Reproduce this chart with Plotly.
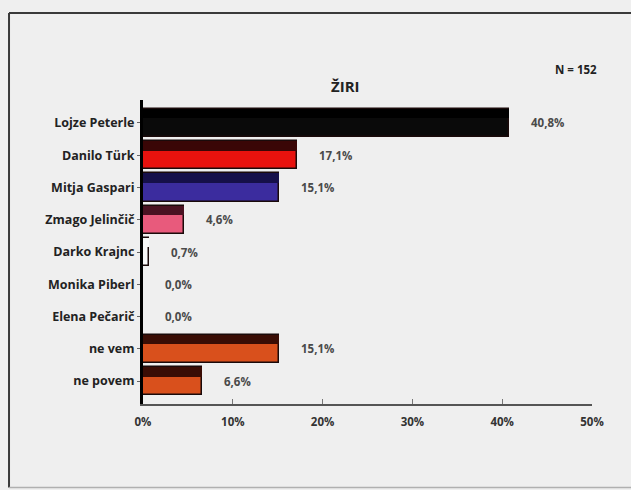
import plotly.graph_objects as go

candidates = ["Lojze Peterle", "Danilo Türk", "Mitja Gaspari", "Zmago Jelinčič",
              "Darko Krajnc", "Monika Piberl", "Elena Pečarič", "ne vem", "ne povem"]
values = [40.8, 17.1, 15.1, 4.6, 0.7, 0.0, 0.0, 15.1, 6.6]
value_labels = ["40,8%", "17,1%", "15,1%", "4,6%", "0,7%", "0,0%", "0,0%", "15,1%", "6,6%"]
bar_colors = ["#0a0a0a", "#e8120e", "#3b2c9e", "#e85a7c", "#f8f8f8",
              "#f8f8f8", "#f8f8f8", "#d9501c", "#d9501c"]
top_colors = ["#000000", "#3a0606", "#16104a", "#4a1222", "#f8f8f8",
              "#f8f8f8", "#f8f8f8", "#3a0d05", "#3a0d05"]
x_ticks = [0, 10, 20, 30, 40, 50]
x_tick_labels = ["0%", "10%", "20%", "30%", "40%", "50%"]
title_text = "ŽIRI"
n_text = "N = 152"

idx = list(range(len(candidates)))
font_fam = "Open Sans, DejaVu Sans, sans-serif"

fig = go.Figure()
fig.add_trace(go.Bar(
    y=idx, x=values, orientation="h", width=0.88,
    marker=dict(color=bar_colors, line=dict(color="#1a0a0a", width=1.5)),
    hoverinfo="skip", showlegend=False,
))
fig.add_trace(go.Bar(
    y=idx, x=values, orientation="h", width=0.3, offset=-0.44,
    marker=dict(color=top_colors, line=dict(width=0)),
    hoverinfo="skip", showlegend=False,
))

for i, (v, lab) in enumerate(zip(values, value_labels)):
    fig.add_annotation(x=v, y=i, text="<b>" + lab + "</b>", showarrow=False, xanchor="left",
                       xshift=20, font=dict(family=font_fam, size=11.5, color="#4a4a4a"))

fig.add_annotation(xref="paper", yref="paper", x=0.452, y=1.046, text="<b>" + title_text + "</b>",
                   showarrow=False, xanchor="center", yanchor="middle",
                   font=dict(family=font_fam, size=15, color="#222"))
fig.add_annotation(xref="paper", yref="paper", x=0.964, y=1.099, text="<b>" + n_text + "</b>",
                   showarrow=False, xanchor="center", yanchor="middle",
                   font=dict(family=font_fam, size=11.5, color="#222"))

# frame
fig.add_shape(type="line", xref="paper", yref="paper", x0=-0.2984, x1=1.12, y0=1.286, y1=1.286,
              line=dict(color="#3a3a3a", width=2))
fig.add_shape(type="line", xref="paper", yref="paper", x0=-0.2984, x1=-0.2984, y0=1.286, y1=-0.275,
              line=dict(color="#3a3a3a", width=2))
fig.add_shape(type="line", xref="paper", yref="paper", x0=-0.2984, x1=1.12, y0=-0.275, y1=-0.275,
              line=dict(color="#b0b0b0", width=1.5))

fig.update_layout(
    width=631, height=490,
    margin=dict(l=143, r=39, t=100, b=86),
    paper_bgcolor="#efefef", plot_bgcolor="#efefef",
    barmode="overlay", bargap=0,
    xaxis=dict(range=[0, 50], tickvals=x_ticks,
               ticktext=["<b>" + t + "</b>" for t in x_tick_labels],
               showgrid=False, zeroline=False, showline=True, linecolor="#555",
               linewidth=1.5, ticks="inside", ticklen=5, tickcolor="#777",
               ticklabelstandoff=6,
               tickfont=dict(family=font_fam, size=11.5, color="#333")),
    yaxis=dict(range=[8.71, -0.71], tickvals=idx,
               ticktext=["<b>" + c + "</b>" for c in candidates],
               showgrid=False, zeroline=False, showline=True, linecolor="#000",
               linewidth=3, ticks="outside", ticklen=3, tickcolor="#666",
               tickfont=dict(family=font_fam, size=12.5, color="#222")),
    font=dict(family=font_fam),
)
fig.write_html("out.html", config={"displayModeBar": False},
               post_script="document.body.style.margin='0px';document.body.style.overflow='hidden';")
